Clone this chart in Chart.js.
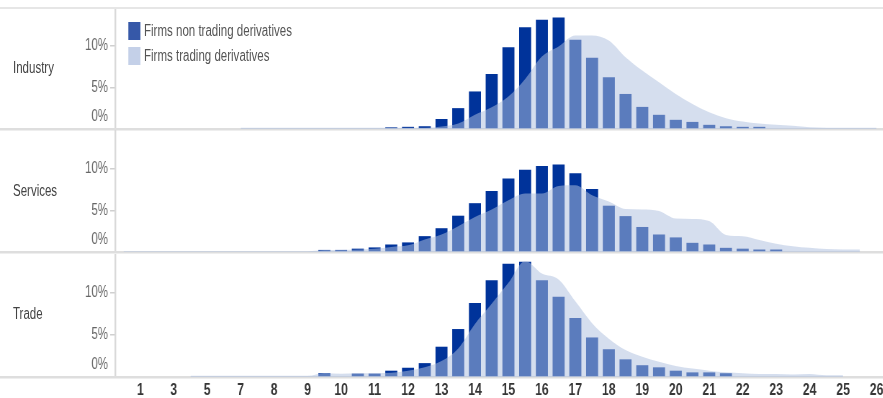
<!DOCTYPE html>
<html>
<head>
<meta charset="utf-8">
<title>Firm size distribution by sector</title>
<script src="https://cdn.jsdelivr.net/npm/chart.js@4.4.1/dist/chart.umd.min.js"></script>
<style>
  html, body { margin: 0; padding: 0; width: 883px; height: 398px; overflow: hidden; background: #fff; }
  #stage {
    position: absolute; left: 0; top: 0; width: 1249px; height: 398px;
    transform: scaleX(0.72); transform-origin: 0 0;
    font-family: "Liberation Sans", Arial, sans-serif;
  }
  .panel { position: absolute; left: 0; width: 1249px; }
  .panel canvas { display: block; }
  .name { position: absolute; left: 18px; font-size: 16px; line-height: 20px; color: #444; white-space: nowrap; }
  .lg { position: absolute; left: 178px; height: 18px; font-size: 16px; line-height: 18px; color: #555; white-space: nowrap; }
  .lg .box { position: absolute; left: 0; top: 0; width: 17px; height: 18px; }
  .lg .txt { position: absolute; left: 22px; top: 0; }
</style>
</head>
<body>
<div id="stage">
  <div class="panel" id="p1" style="top:-7px;height:163px"><canvas id="c1" width="1249" height="163"></canvas></div>
  <div class="panel" id="p2" style="top:116px;height:163px"><canvas id="c2" width="1249" height="163"></canvas></div>
  <div class="panel" id="p3" style="top:240px;height:167px"><canvas id="c3" width="1249" height="167"></canvas></div>

  <div class="name" style="top:58px">Industry</div>
  <div class="name" style="top:181px">Services</div>
  <div class="name" style="top:304px">Trade</div>

  <div class="lg" style="top:22px"><span class="box" style="background:#3658a8"></span><span class="txt">Firms non trading derivatives</span></div>
  <div class="lg" style="top:47px"><span class="box" style="background:#c4d0e8"></span><span class="txt">Firms trading derivatives</span></div>
</div>

<script>
// Size classes on the horizontal axis: labelled classes with a half-step slot between them.
const slotLabels = ['', '1', '', '3', '', '5', '', '7', '', '8', '', '9', '', '10', '', '11', '', '12', '', '13',
  '', '14', '', '15', '', '16', '', '17', '', '18', '', '19', '', '20', '', '21', '', '22', '', '23',
  '', '24', '', '25', '', '26'];

// Share of firms (%) per slot.
const industryNonTrading = [null, null, null, null, null, null, null, null, null, null,
  null, null, null, null, null, null, 0.2, 0.26, 0.33, 1.2,
  2.5, 4.5, 6.6, 9.8, 12.2, 13.1, 13.35, 10.7, 8.55, 6.2,
  4.2, 2.65, 1.7, 1.1, 0.85, 0.5, 0.33, 0.26, 0.26, null,
  null, null, null, null, null, null];
const industryTrading = [null, null, null, null, null, null, null, 0.15, 0.15, 0.15,
  0.15, 0.15, 0.15, 0.15, 0.15, 0.15, 0.15, 0.15, 0.15, 0.3,
  0.65, 1.7, 2.6, 3.9, 6.0, 8.7, 9.9, 11.2, 11.2, 10.6,
  8.6, 7.0, 5.6, 4.2, 3.0, 2.0, 1.3, 0.9, 0.65, 0.5,
  0.4, 0.2, 0.15, 0.15, 0.15, 0.15];

const servicesNonTrading = [null, null, null, null, null, null, null, null, null, null,
  null, null, 0.25, 0.25, 0.4, 0.55, 0.9, 1.15, 1.9, 2.85,
  4.35, 5.85, 7.3, 8.8, 9.85, 10.3, 10.5, 9.45, 7.55, 5.55,
  4.3, 3.0, 2.1, 1.75, 1.1, 0.9, 0.5, 0.4, 0.3, 0.3,
  null, null, null, null, null, null];
const servicesTrading = [0.1, 0.1, 0.1, 0.1, 0.1, 0.1, 0.1, 0.1, 0.1, 0.1,
  0.1, 0.1, 0.25, 0.25, 0.3, 0.4, 0.6, 0.8, 1.5, 2.1,
  3.1, 4.2, 5.1, 6.2, 7.0, 7.0, 7.9, 8.0, 6.8, 6.05,
  5.15, 5.1, 4.9, 4.0, 3.95, 3.7, 2.05, 1.9, 1.45, 1.0,
  0.7, 0.5, 0.35, 0.3, 0.3, null];

const tradeNonTrading = [null, null, null, null, null, null, null, null, null, null,
  null, null, 0.45, null, 0.4, 0.4, 0.75, 1.1, 1.65, 3.6,
  5.7, 8.8, 11.5, 13.45, 13.7, 11.5, 9.55, 7.0, 4.7, 3.3,
  2.1, 1.4, 1.15, 0.75, 0.55, 0.55, 0.45, null, null, null,
  null, null, null, null, null, null];
const tradeTrading = [null, null, null, null, 0.15, 0.15, 0.15, 0.15, 0.15, 0.15,
  0.15, 0.15, 0.45, 0.4, 0.45, 0.45, 0.5, 0.75, 1.15, 1.9,
  3.4, 6.3, 8.7, 11.2, 13.8, 12.3, 11.6, 9.0, 6.4, 4.55,
  3.2, 2.4, 1.8, 1.3, 1.0, 0.75, 0.55, 0.45, 0.35, 0.35,
  0.3, 0.35, 0.2, 0.2, null, null];

const yTicks = [0, 5, 10];
const Y_MAX = 14.5;

const FONT = '"Liberation Sans", Arial, sans-serif';
const DARK = '#00339a';
const AREA = 'rgba(175,192,223,0.52)';

// Light separator rules that run across the whole width, under the marks.
const frameLines = {
  id: 'frameLines',
  beforeDatasetsDraw(chart, args, opts) {
    const { ctx, chartArea, width } = chart;
    ctx.save();
    ctx.fillStyle = '#dedede';
    ctx.fillRect(0, chartArea.bottom - 1, width, 2.5);
    if (opts.top) {
      ctx.fillStyle = '#e6e6e6';
      ctx.fillRect(0, chartArea.top - 1, width, 2);
    }
    ctx.restore();
  }
};

function makePanel(canvasId, nonTrading, trading, showX, drawTop) {
  return new Chart(document.getElementById(canvasId), {
    type: 'bar',
    data: {
      labels: slotLabels,
      datasets: [
        {
          type: 'line',
          label: 'Firms trading derivatives',
          data: trading,
          order: 0,
          backgroundColor: AREA,
          borderWidth: 0,
          borderColor: 'rgba(0,0,0,0)',
          pointRadius: 0,
          fill: 'origin',
          cubicInterpolationMode: 'monotone',
          spanGaps: false
        },
        {
          type: 'bar',
          label: 'Firms non trading derivatives',
          data: nonTrading,
          order: 1,
          backgroundColor: DARK,
          barPercentage: 0.72,
          categoryPercentage: 1
        }
      ]
    },
    options: {
      responsive: false,
      animation: false,
      events: [],
      layout: { padding: { top: 14, bottom: showX ? 0 : 26, left: 0, right: 20 } },
      plugins: {
        legend: { display: false },
        tooltip: { enabled: false },
        frameLines: { top: drawTop }
      },
      scales: {
        x: {
          type: 'category',
          offset: true,
          display: showX,
          grid: { display: false, drawTicks: false },
          border: { display: false },
          ticks: {
            autoSkip: false, maxRotation: 0, minRotation: 0, padding: 3,
            color: '#363636',
            font: { family: FONT, size: 17, weight: 'bold' }
          },
          afterFit(scale) { if (showX) scale.height = 30; }
        },
        y: {
          min: 0,
          max: Y_MAX,
          afterFit(scale) { scale.width = 160; },
          afterBuildTicks(scale) { scale.ticks = yTicks.map(v => ({ value: v })); },
          grid: {
            drawOnChartArea: false, drawTicks: true, tickLength: 7, lineWidth: 1.5,
            color: c => (c.tick && c.tick.value === 0) ? 'rgba(0,0,0,0)' : '#cfcfcf'
          },
          border: { display: true, color: '#d9d9d9', width: 2.4 },
          ticks: {
            autoSkip: false,
            padding: 3,
            color: '#666',
            font: { family: FONT, size: 16, lineHeight: 1.5 },
            // the 0% label sits one line above its baseline
            callback: v => v === 0 ? ['0%', ''] : v + '%'
          }
        }
      }
    },
    plugins: [frameLines]
  });
}

makePanel('c1', industryNonTrading, industryTrading, false, true);
makePanel('c2', servicesNonTrading, servicesTrading, false, false);
makePanel('c3', tradeNonTrading, tradeTrading, true, false);
</script>
</body>
</html>
